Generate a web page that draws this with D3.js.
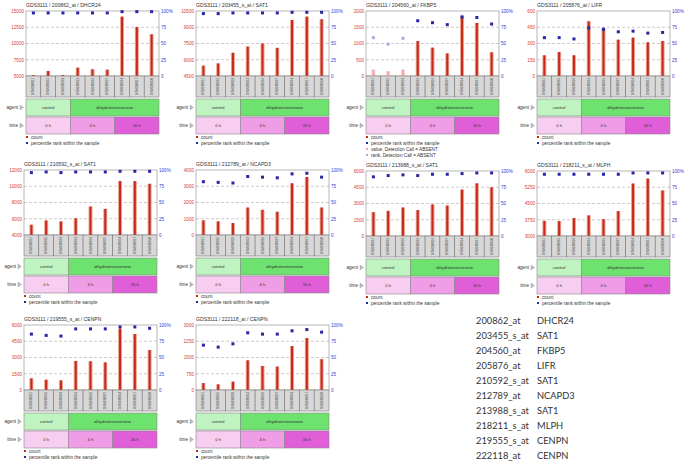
<!DOCTYPE html>
<html><head><meta charset="utf-8">
<script src="https://cdn.jsdelivr.net/npm/d3@7"></script>
<style>body{margin:0;background:#fff}svg{display:block}</style>
</head><body>
<svg id="c" width="686" height="463"></svg>
<script>
// ---------- DATA ----------
const datasetId = "GDS3111";
const samples = ["GSM180812","GSM180815","GSM180818","GSM180813","GSM180816","GSM180819","GSM180814","GSM180817","GSM180820"];
const agentLabels = ["control","dihydrotestosterone"];
const agentSpans = [3,6];
const timeLabels = ["0 h","4 h","16 h"];
const timeSpans = [3,3,3];
const probes = ["200862_at","203455_s_at","204560_at","205876_at","210592_s_at","212789_at","213988_s_at","218211_s_at","219555_s_at","222118_at"];
const genes = ["DHCR24","SAT1","FKBP5","LIFR","SAT1","NCAPD3","SAT1","MLPH","CENPN","CENPN"];
const countDomains = [[5000,15000],[4500,10500],[0,2000],[0,600],[4000,12000],[0,4000],[0,6000],[3000,6000],[0,6000],[0,3000]];
const countTicks = [
  [5000,7500,10000,12500,15000],
  [4500,6000,7500,9000,10500],
  [0,500,1000,1500,2000],
  [0,150,300,450,600],
  [4000,6000,8000,10000,12000],
  [0,1000,2000,3000,4000],
  [0,1500,3000,4500,6000],
  [3000,3750,4500,5250,6000],
  [0,1500,3000,4500,6000],
  [0,750,1500,2250,3000]
];
const rankTicks = [0,25,50,75,100];
const rankTickLabels = ["0","25","50","75","100%"];

const count_200862_at   = [5150,5770,5150,6280,6030,5970,14130,12540,11410];
const rank_200862_at    = [97,97,97,97,97,97,99,99,99];
const count_203455_s_at = [5450,5660,6640,7220,7500,7100,9670,9980,9740];
const rank_203455_s_at  = [96,96,97,97,97,97,98,98,98];
const count_204560_at   = [195,145,195,1077,872,697,1836,1630,728];
const rank_204560_at    = [59,49,58,85,82,79,91,90,80];
const count_205876_at   = [191,222,191,505,437,335,354,311,323];
const rank_205876_at    = [59,59,57,74,72,68,69,66,67];
const count_210592_s_at = [5260,5790,5670,6070,7500,7210,10630,10630,10300];
const rank_210592_s_at  = [96,97,96,97,97,97,98,98,98];
const count_212789_at   = [900,840,735,1690,1550,1430,3180,3570,1690];
const rank_212789_at    = [82,81,80,90,89,88,94,95,89];
const count_213988_s_at = [2200,2320,2630,2390,2910,2810,4280,4860,4500];
const rank_213988_s_at  = [91,93,94,93,95,95,96,97,97];
const count_218211_s_at = [3700,3690,3830,3950,3780,4150,5420,5650,5100];
const rank_218211_s_at  = [95,95,95,95,95,95,97,97,97];
const count_219555_s_at = [1080,950,890,2680,2650,2550,5660,5170,3690];
const rank_219555_s_at  = [86,84,83,94,94,94,97,97,95];
const count_222118_at   = [320,260,385,1370,1110,1080,2030,2400,1420];
const rank_222118_at    = [69,66,71,88,86,86,91,93,89];
// detection call ABSENT flags (1 = absent)
const absent_204560_at  = [1,1,1,0,0,0,0,0,0];

const countSeries = [count_200862_at,count_203455_s_at,count_204560_at,count_205876_at,count_210592_s_at,count_212789_at,count_213988_s_at,count_218211_s_at,count_219555_s_at,count_222118_at];
const rankSeries = [rank_200862_at,rank_203455_s_at,rank_204560_at,rank_205876_at,rank_210592_s_at,rank_212789_at,rank_213988_s_at,rank_218211_s_at,rank_219555_s_at,rank_222118_at];
const absentSeries = [null,null,absent_204560_at,null,null,null,null,null,null,null];

// ---------- LAYOUT ----------
const layout = [
  {L:26,T:11},{L:196,T:11},{L:366,T:11},{L:537,T:11},
  {L:24,T:170},{L:196,T:170},{L:366,T:171},{L:537,T:171},
  {L:24,T:325},{L:196,T:325}
];
const W = 133, H = 65;
const svg = d3.select("#c");
const FONT = "Arial, 'Liberation Sans', sans-serif";

const colBar = "#c42a1c", colBarEdge = "#eea090";
const colBarAbs = "#f3a8a8", colBarAbsEdge = "#fbd0d0";
const colRank = "#2626a6", colRankAbs = "#a8acd8";
const agentFill = ["#bff3bf","#6ee26e"];
const timeFill = ["#f8cdf2","#ee9de6","#e05fd8"];

probes.forEach((probe, p) => {
  const {L, T} = layout[p];
  const g = svg.append("g");
  const x = d3.scaleBand().domain(samples).range([L, L+W]);
  const yC = d3.scaleLinear().domain(countDomains[p]).range([T+H, T]);
  const yR = d3.scaleLinear().domain([0,100]).range([T+H, T]);
  const absent = absentSeries[p];

  // title
  g.append("text").attr("x", L).attr("y", T-4)
    .attr("font-family", FONT).attr("font-size", 5.1).attr("fill", "#333")
    .text(`${datasetId} / ${probe} / ${genes[p]}`);

  // grid lines
  g.selectAll(".grid").data([25,50,75]).join("line")
    .attr("x1", L).attr("x2", L+W)
    .attr("y1", d => yR(d)).attr("y2", d => yR(d))
    .attr("stroke", "#aaa").attr("stroke-width", 0.6).attr("stroke-dasharray", "3,2");

  // frame
  g.append("rect").attr("x", L).attr("y", T).attr("width", W).attr("height", H)
    .attr("fill", "none").attr("stroke", "#999").attr("stroke-width", 0.7);

  // left axis
  const axL = g.append("g").attr("transform", `translate(${L},0)`)
    .call(d3.axisLeft(yC).tickValues(countTicks[p]).tickSize(0).tickPadding(2).tickFormat(d3.format("d")));
  axL.select(".domain").remove();
  axL.selectAll("text").attr("font-family", FONT).attr("font-size", 4.6).attr("fill", "#d83a3a");

  // right axis
  const axR = g.append("g").attr("transform", `translate(${L+W},0)`)
    .call(d3.axisRight(yR).tickValues(rankTicks).tickSize(0).tickPadding(2).tickFormat((d,i) => rankTickLabels[i]));
  axR.select(".domain").remove();
  axR.selectAll("text").attr("font-family", FONT).attr("font-size", 4.6).attr("fill", "#3a3ad8");

  // bars
  const counts = countSeries[p];
  const base = countDomains[p][0];
  const bd = samples.map((s, i) => ({s, v: counts[i], a: absent ? absent[i] : 0}));
  g.selectAll(".bo").data(bd).join("rect")
    .attr("x", d => x(d.s) + x.bandwidth()/2 - 2).attr("width", 4)
    .attr("y", d => yC(d.v)).attr("height", d => yC(base) - yC(d.v))
    .attr("fill", d => d.a ? colBarAbsEdge : colBarEdge);
  g.selectAll(".bi").data(bd).join("rect")
    .attr("x", d => x(d.s) + x.bandwidth()/2 - 1).attr("width", 2)
    .attr("y", d => yC(d.v)).attr("height", d => yC(base) - yC(d.v))
    .attr("fill", d => d.a ? colBarAbs : colBar);

  // rank points
  const ranks = rankSeries[p];
  g.selectAll(".rk").data(samples.map((s,i) => ({s, v: ranks[i], a: absent ? absent[i] : 0}))).join("rect")
    .attr("x", d => x(d.s) + x.bandwidth()/2 - 1.5).attr("y", d => yR(d.v) - 1.5)
    .attr("width", 3).attr("height", 3)
    .attr("fill", d => d.a ? colRankAbs : colRank);

  // sample boxes
  const sb = g.selectAll(".sb").data(samples).join("g");
  sb.append("rect").attr("x", d => x(d)).attr("y", T+H).attr("width", x.bandwidth()).attr("height", 21)
    .attr("fill", "#d8d8d8").attr("stroke", "#777").attr("stroke-width", 0.6);
  sb.append("text")
    .attr("transform", d => `translate(${x(d)+x.bandwidth()/2},${T+H+10.5}) rotate(-90)`)
    .attr("text-anchor", "middle").attr("dominant-baseline", "central")
    .attr("font-family", FONT).attr("font-size", 3.1).attr("fill", "#444").text(d => d);

  // annotation rows
  function row(labels, spans, fills, y0, h, name) {
    let start = 0;
    labels.forEach((lab, i) => {
      const x0 = x(samples[start]);
      const x1 = x(samples[start + spans[i] - 1]) + x.bandwidth();
      g.append("rect").attr("x", x0).attr("y", y0).attr("width", x1-x0).attr("height", h)
        .attr("fill", fills[i]).attr("stroke", "#888").attr("stroke-width", 0.6);
      g.append("text").attr("x", (x0+x1)/2).attr("y", y0 + h/2)
        .attr("text-anchor", "middle").attr("dominant-baseline", "central")
        .attr("font-family", FONT).attr("font-size", 4.2).attr("fill", "#333").text(lab);
      start += spans[i];
    });
    g.append("text").attr("x", L-8).attr("y", y0 + h/2)
      .attr("text-anchor", "end").attr("dominant-baseline", "central")
      .attr("font-family", FONT).attr("font-size", 4.6).attr("fill", "#333").text(name);
    g.append("path").attr("d", `M${L-6},${y0+h/2-2.5} L${L-2.5},${y0+h/2} L${L-6},${y0+h/2+2.5} Z`)
      .attr("fill", "#bbb").attr("stroke", "#999").attr("stroke-width", 0.4);
  }
  row(agentLabels, agentSpans, agentFill, T+88, 17, "agent");
  row(timeLabels, timeSpans, timeFill, T+106, 17, "time");

  // legend
  const leg = [["count", colBar], ["percentile rank within the sample", colRank]];
  if (absent) {
    leg.push(["value, Detection Call = ABSENT", colBarAbs]);
    leg.push(["rank, Detection Call = ABSENT", colRankAbs]);
  }
  leg.forEach((d, i) => {
    const yy = T + 126 + i*6;
    g.append("rect").attr("x", L).attr("y", yy-1).attr("width", 2).attr("height", 2).attr("fill", d[1]);
    g.append("text").attr("x", L+5).attr("y", yy).attr("dominant-baseline", "central")
      .attr("font-family", FONT).attr("font-size", 4.7).attr("fill", "#333").text(d[0]);
  });
});

// probe / gene table
const tbl = svg.append("g");
probes.forEach((p, i) => {
  tbl.append("text").attr("x", 476).attr("y", 320 + i*15).attr("dominant-baseline", "central")
    .attr("font-family", "Lato, 'Open Sans', sans-serif").attr("font-size", 9.3).attr("fill", "#333").text(p);
  tbl.append("text").attr("x", 537).attr("y", 320 + i*15).attr("dominant-baseline", "central")
    .attr("font-family", "Lato, 'Open Sans', sans-serif").attr("font-size", 9.3).attr("fill", "#333").text(genes[i]);
});
</script>
</body></html>
